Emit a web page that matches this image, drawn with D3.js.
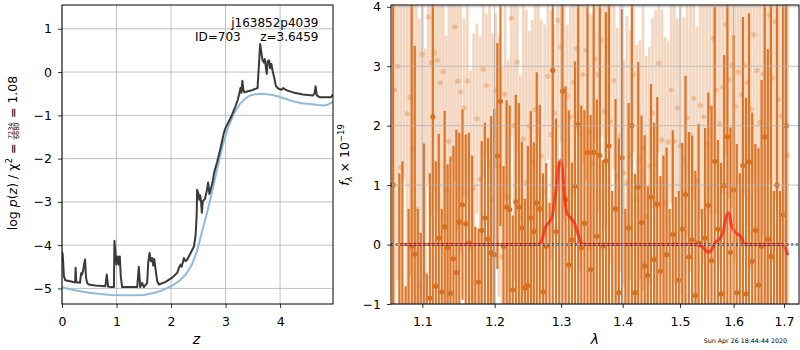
<!DOCTYPE html>
<html><head><meta charset="utf-8">
<script src="https://cdn.jsdelivr.net/npm/d3@7"></script>
<style>body{margin:0;background:#fff}</style>
</head><body><svg id="chart" width="800" height="350"></svg>
<script>
// ---------- Left panel: redshift PDF ----------
const pdfZ = [0.000,0.010,0.020,0.035,0.060,0.170,0.225,0.240,0.250,0.262,0.330,0.350,0.368,0.386,0.404,0.423,0.441,0.460,0.490,0.610,0.795,0.821,0.846,0.920,0.952,0.962,0.980,0.999,1.023,1.042,1.060,1.078,1.103,1.379,1.409,1.434,1.470,1.501,1.562,1.581,1.605,1.630,1.654,1.673,1.691,1.716,1.746,1.777,1.900,2.022,2.114,2.145,2.175,2.194,2.237,2.267,2.298,2.359,2.420,2.451,2.470,2.478,2.500,2.517,2.535,2.550,2.565,2.583,2.619,2.655,2.680,2.704,2.728,2.758,2.789,2.849,2.909,2.970,3.000,3.060,3.121,3.181,3.224,3.248,3.272,3.290,3.308,3.326,3.344,3.393,3.483,3.586,3.610,3.634,3.653,3.677,3.701,3.719,3.737,3.755,3.773,3.798,3.816,3.840,3.864,3.894,3.924,3.967,4.027,4.057,4.118,4.239,4.420,4.601,4.631,4.650,4.674,4.722,4.843,4.934,4.970];
const pdfLogP = [-4.15,-4.20,-4.35,-4.72,-4.81,-4.84,-4.86,-4.86,-4.52,-4.86,-4.87,-4.65,-4.68,-4.60,-4.45,-4.33,-4.75,-4.87,-4.91,-4.93,-4.95,-4.68,-4.96,-4.97,-4.97,-3.90,-4.18,-4.45,-4.26,-4.45,-4.26,-4.72,-4.97,-4.97,-4.50,-4.97,-4.87,-4.97,-4.87,-4.41,-4.18,-4.37,-4.30,-4.47,-4.32,-4.56,-4.83,-4.91,-4.85,-4.75,-4.64,-4.52,-4.45,-4.50,-4.30,-4.37,-4.33,-4.18,-4.03,-3.76,-3.30,-2.72,-2.80,-2.95,-2.85,-3.00,-3.25,-2.98,-2.94,-2.75,-2.55,-2.82,-2.71,-2.56,-2.33,-2.06,-1.75,-1.40,-1.29,-1.14,-0.98,-0.79,-0.64,-0.52,-0.37,-0.48,-0.20,-0.41,-0.47,-0.45,-0.42,-0.37,0.13,0.65,0.48,0.28,0.22,0.30,0.13,-0.04,0.25,0.27,0.09,0.19,0.02,-0.14,-0.33,-0.38,-0.41,-0.37,-0.42,-0.47,-0.52,-0.54,-0.50,-0.33,-0.54,-0.58,-0.58,-0.58,-0.52];
const priorZ = [0.00,0.15,0.30,0.50,0.70,0.90,1.10,1.30,1.50,1.70,1.85,2.00,2.15,2.27,2.39,2.48,2.57,2.66,2.75,2.85,2.95,3.05,3.15,3.25,3.35,3.45,3.55,3.65,3.75,3.85,3.95,4.05,4.15,4.25,4.40,4.55,4.70,4.80,4.88,4.97];
const priorLogP = [-4.97,-5.02,-5.06,-5.10,-5.13,-5.15,-5.16,-5.16,-5.15,-5.10,-5.04,-4.95,-4.83,-4.68,-4.43,-4.12,-3.68,-3.25,-2.78,-2.22,-1.68,-1.27,-0.97,-0.76,-0.62,-0.54,-0.51,-0.50,-0.51,-0.53,-0.56,-0.60,-0.64,-0.68,-0.72,-0.74,-0.76,-0.77,-0.75,-0.68];
const zTicks = [0,1,2,3,4];
const logpTicks = [-5,-4,-3,-2,-1,0,1];
const objName = "j163852p4039";
const objId = "ID=703";
const objZ = "z=3.6459";

// ---------- Right panel: spectrum (wavelength in Angstrom) ----------
const darkWave = [10620,10660,10700,10740,10780,10820,10860,10900,10940,10980,11020,11060,11100,11140,11180,11220,11260,11300,11340,11380,11420,11460,11500,
11545,11590,11635,11680,11725,11770,11815,11860,11905,11950,11995,12040,12085,12130,12175,12220,12265,12310,12355,12400,12445,12490,12535,12580,12625,12670,
12720,12770,12820,12870,12920,12970,13020,13070,13120,13170,13220,13270,13320,13370,13420,13470,13520,13570,13620,13670,13720,13770,
13825,13880,13935,13990,14045,14100,14155,14210,14265,14320,14375,14430,14485,14540,14595,14650,14705,14760,14815,14870,14925,14980,
15040,15100,15160,15220,15280,15340,15400,15460,15520,15580,15640,15700,15760,15820,15880,15940,16000,16060,16120,16180,16240,16300,
16362,16424,16486,16548,16610,16672,16734,16796,16858,16920,16982,17044];
const darkFlux = [1.0,-2.6,-1.3,-1.6,-2.2,-1.8,-0.03,-0.16,-1.5,-2.0,-1.2,-2.4,-0.9,2.15,-0.70,0.11,-0.8,0.3,-0.05,-0.82,-0.24,-0.47,0.38,
0.67,0.35,0.03,-1.4,-1.5,-0.63,0.24,0.45,0.09,-0.14,-0.17,1.49,2.41,-0.03,0.63,0.59,-0.76,0.72,0.63,0.28,-0.73,-0.69,0.45,0.22,0.70,0.60,
-0.80,-0.03,-1.5,2.93,0.22,-1.2,2.58,0.76,-0.34,0.08,0.98,2.02,-0.06,0.36,1.55,-0.42,1.55,0.14,1.50,-0.03,1.41,1.66,
-1.6,0.60,-0.81,1.46,-1.3,0.28,2.00,-0.81,0.97,0.37,-0.36,-0.52,0.80,-0.25,0.68,-0.45,-1.4,-0.17,-2.0,0.17,-1.6,-0.6,
0.26,0.84,-0.21,0.08,-0.86,0.03,-1.5,0.11,0.66,-0.27,1.40,0.26,-0.83,0.99,1.81,-0.13,0.92,-0.81,-1.3,1.33,-0.83,1.39,
-0.28,0.24,-0.68,-0.03,1.81,0.09,-0.2,-1.9,1.0,-1.5,0.5,2.0];
const darkErr = [4.5,1.2,2.5,3.0,1.5,2.4,5.0,3.5,2.1,2.2,2.9,1.9,2.1,3.6,2.1,1.75,1.4,1.95,1.4,2.3,1.9,2.4,1.5,
1.6,1.5,1.85,2.9,1.8,0.9,1.5,1.6,1.7,2.3,2.45,1.9,2.1,1.35,1.8,1.75,1.25,1.8,1.75,1.45,1.5,2.35,1.8,1.5,2.2,1.75,
2.0,1.4,2.2,4.2,1.9,2.6,3.7,1.9,2.6,1.3,2.1,3.2,2.4,1.9,2.7,2.6,2.7,2.3,2.6,1.45,2.5,2.8,
2.5,1.85,2.6,2.5,1.9,2.1,3.1,2.0,2.1,1.8,2.2,1.5,1.9,2.3,1.8,1.6,2.9,1.8,2.6,1.75,2.4,1.5,
1.45,2.0,2.1,1.75,2.1,2.0,2.1,1.85,1.9,2.6,2.6,1.5,2.2,2.2,2.9,2.1,2.6,2.5,2.5,2.5,3.3,2.5,
2.5,1.45,2.3,2.8,3.0,3.2,4.8,2.8,5.0,2.4,5.5,4.5];

const lightWave = [10640,10680,10720,10760,10800,10840,10880,10920,10960,11000,11040,11080,11120,11160,11200,11240,11280,11320,11360,11400,11440,11480,11520,
11567,11612,11657,11702,11747,11792,11837,11882,11927,11972,12017,12062,12107,12152,12197,12242,12287,12332,12377,12422,12467,12512,12557,12602,12647,12692,
12745,12795,12845,12895,12945,12995,13045,13095,13145,13195,13245,13295,13345,13395,13445,13495,13545,13595,13645,13695,13745,13795,
13852,13907,13962,14017,14072,14127,14182,14237,14292,14347,14402,14457,14512,14567,14622,14677,14732,14787,14842,14897,14952,15007,
15070,15130,15190,15250,15310,15370,15430,15490,15550,15610,15670,15730,15790,15850,15910,15970,16030,16090,16150,16210,16270,16330,
16393,16455,16517,16579,16641,16703,16765,16827,16889,16951,17013,17075];
const lightFlux = [2.6,3.0,1.3,4.5,2.2,2.48,1.61,0.60,-0.70,3.2,-0.50,3.83,3.06,3.22,3.10,2.72,2.91,0.92,1.74,4.3,3.66,2.75,2.57,
2.30,2.75,-0.07,0.95,2.12,1.10,2.95,2.68,1.35,0.76,2.59,1.32,-0.21,2.53,0.80,3.81,2.0,3.07,0.45,1.78,1.05,1.99,1.38,2.27,4.4,1.49,
0.9,2.83,1.85,2.21,3.77,3.32,2.61,2.50,2.15,2.73,3.30,1.86,2.86,3.27,1.90,1.37,3.12,2.86,3.44,2.24,3.32,2.07,
2.76,1.15,1.84,1.21,1.04,1.50,2.86,0.76,1.43,1.62,0.47,1.32,2.21,1.35,3.05,1.76,0.70,1.73,2.6,1.74,2.3,1.66,
1.43,2.13,1.85,2.46,1.07,2.34,2.15,1.68,2.31,3.47,2.60,2.03,2.65,3.70,2.77,3.02,2.32,2.90,2.52,3.02,2.72,2.28,
3.53,2.93,2.06,2.87,1.99,3.86,2.80,3.75,2.44,2.16,2.0,1.5];
const lightErr = [4.0,3.6,3.2,3.4,3.4,3.0,3.6,3.8,4.5,3.0,3.8,2.8,2.6,2.3,2.6,2.8,2.5,2.6,3.0,2.9,2.6,2.5,2.7,
1.5,2.0,3.0,2.6,1.6,2.4,1.8,1.2,2.9,2.8,1.3,2.2,3.2,1.8,2.3,2.0,2.6,1.5,2.4,2.6,2.9,1.6,2.4,2.1,2.6,2.3,
2.8,1.4,2.1,1.5,2.5,1.6,2.2,1.2,2.6,1.9,1.4,2.3,1.5,2.2,2.0,2.5,1.4,2.3,1.6,2.0,1.5,2.4,
1.5,2.5,2.3,1.9,2.8,2.1,1.3,2.6,2.0,2.4,2.7,2.0,1.6,2.6,1.5,2.2,2.8,1.7,1.9,2.4,1.5,2.5,
2.4,2.0,2.3,1.7,2.6,1.9,2.5,2.6,1.8,2.0,2.1,2.4,1.8,2.2,2.0,2.4,2.6,1.9,2.5,2.2,2.4,2.7,
2.5,2.9,3.1,2.7,3.2,2.8,3.1,3.0,3.4,3.5,4.0,4.5];

const modelWave = [1.072,1.265,1.270,1.276,1.281,1.286,1.292,1.296,1.299,1.302,1.305,1.309,1.315,1.321,1.326,1.332,1.336,1.527,1.540,1.548,1.553,1.558,1.565,1.576,1.581,1.586,1.591,1.596,1.604,1.614,1.622,1.698,1.703,1.708];
const modelFlux = [0,0,0.07,0.30,0.37,0.47,0.92,1.31,1.42,1.26,0.86,0.53,0.45,0.36,0.20,0.03,0,0,-0.03,-0.11,-0.13,-0.09,0.03,0.13,0.25,0.48,0.53,0.32,0.20,0.13,0,0,-0.07,-0.18];
const lamTicks = [1.1,1.2,1.3,1.4,1.5,1.6,1.7];
const fluxTicks = [-1,0,1,2,3,4];
const stamp = "Sun Apr 26 18:44:44 2020";

// ---------- drawing ----------
const FONT = "DejaVu Sans, sans-serif";
const TICKFS = 12.5;
const svg = d3.select("#chart");
svg.append("rect").attr("width",800).attr("height",350).attr("fill","#fff");

const L = {x0:62, x1:333, y0:5, y1:304};
const R = {x0:391, x1:799, y0:5, y1:304};
const xL = d3.scaleLinear().domain([0,4.97]).range([L.x0,L.x1]);
const yL = d3.scaleLinear().domain([-5.36,1.55]).range([L.y1,L.y0]);
const xR = d3.scaleLog().domain([1.0593,1.731]).range([R.x0,R.x1]);
const yR = d3.scaleLinear().domain([-1,4.03]).range([R.y1,R.y0]);

const defs = svg.append("defs");
defs.append("clipPath").attr("id","clipL").append("rect").attr("x",L.x0).attr("y",L.y0).attr("width",L.x1-L.x0).attr("height",L.y1-L.y0);
defs.append("clipPath").attr("id","clipR").append("rect").attr("x",R.x0).attr("y",R.y0).attr("width",R.x1-R.x0).attr("height",R.y1-R.y0);

function drawGrid(g, x, y, xt, yt, B){
  g.selectAll(".vg").data(xt).join("line").attr("class","vg").attr("x1",d=>x(d)).attr("x2",d=>x(d)).attr("y1",B.y0).attr("y2",B.y1)
    .attr("stroke","#b0b0b0").attr("stroke-width",0.8);
  g.selectAll(".hg").data(yt).join("line").attr("class","hg").attr("y1",d=>y(d)).attr("y2",d=>y(d)).attr("x1",B.x0).attr("x2",B.x1)
    .attr("stroke","#b0b0b0").attr("stroke-width",0.8);
}
function styleAxis(g){
  g.select(".domain").remove();
  g.selectAll(".tick line").attr("stroke","#000").attr("stroke-width",0.8);
  g.selectAll("text").attr("font-size",TICKFS).attr("font-family",FONT).attr("fill","#000");
}

// ----- left panel -----
const gL = svg.append("g");
drawGrid(gL.append("g"), xL, yL, zTicks, logpTicks, L);
const lineL = d3.line().x(d=>xL(d[0])).y(d=>yL(d[1]));
const gLc = gL.append("g").attr("clip-path","url(#clipL)");
gLc.append("path").datum(d3.zip(priorZ,priorLogP)).attr("d",lineL).attr("fill","none").attr("stroke","#8fbbda").attr("stroke-width",2);
gLc.append("path").datum(d3.zip(pdfZ,pdfLogP)).attr("d",lineL).attr("fill","none").attr("stroke","#3a3a3a").attr("stroke-width",2).attr("stroke-linejoin","round");
svg.append("g").attr("transform",`translate(0,${L.y1})`)
  .call(d3.axisBottom(xL).tickValues(zTicks).tickFormat(d3.format("d")).tickSize(4))
  .call(styleAxis).selectAll("text").attr("y",21.5).attr("dy",null);
svg.append("g").attr("transform",`translate(${L.x0},0)`)
  .call(d3.axisLeft(yL).tickValues(logpTicks).tickFormat(d3.format("d")).tickSize(4).tickPadding(6))
  .call(styleAxis);
svg.append("rect").attr("x",L.x0).attr("y",L.y0).attr("width",L.x1-L.x0).attr("height",L.y1-L.y0)
  .attr("fill","none").attr("stroke","#000").attr("stroke-width",1);
svg.append("text").attr("x",318.5).attr("y",27).attr("text-anchor","end").attr("font-size",12).attr("font-family",FONT).text(objName);
svg.append("text").attr("x",195).attr("y",41.3).attr("font-size",12).attr("font-family",FONT).text(objId);
svg.append("text").attr("x",318.5).attr("y",41.3).attr("text-anchor","end").attr("font-size",12).attr("font-family",FONT).text(objZ);
svg.append("text").attr("x",196.5).attr("y",344).attr("text-anchor","middle").attr("font-size",14).attr("font-family",FONT)
  .attr("font-style","italic").text("z");
{
  const fs = 12.5;
  const g = svg.append("g").attr("transform","translate(17.3,153) rotate(-90)");
  const inner = g.append("g");
  const t1 = inner.append("text").attr("font-size",fs).attr("font-family",FONT).attr("x",0).attr("y",0);
  t1.append("tspan").text("log ");
  t1.append("tspan").attr("font-style","italic").text("p");
  t1.append("tspan").text("(");
  t1.append("tspan").attr("font-style","italic").text("z");
  t1.append("tspan").text(") / χ");
  t1.append("tspan").attr("font-size",fs*0.7).attr("dy",-5).text("2");
  t1.append("tspan").attr("dy",5).text("\u00a0=\u00a0");
  const w1 = t1.node().getComputedTextLength();
  const num = inner.append("text").attr("font-size",6.5).attr("font-family",FONT).attr("text-anchor","middle").attr("y",-4.4).text("7234");
  const den = inner.append("text").attr("font-size",6.5).attr("font-family",FONT).attr("text-anchor","middle").attr("y",1.9).text("6680");
  const fw = Math.max(num.node().getComputedTextLength(), den.node().getComputedTextLength()) + 1;
  num.attr("x", w1 + fw/2); den.attr("x", w1 + fw/2);
  inner.append("line").attr("x1",w1).attr("x2",w1+fw).attr("y1",-3.4).attr("y2",-3.4).attr("stroke","#000").attr("stroke-width",0.5);
  const t2 = inner.append("text").attr("font-size",fs).attr("font-family",FONT).attr("x",w1+fw).attr("y",0).text("\u00a0=\u00a01.08");
  const W = w1 + fw + t2.node().getComputedTextLength();
  inner.attr("transform",`translate(${-W/2},0)`);
}

// ----- right panel -----
const gR = svg.append("g");
const gRc = gR.append("g").attr("clip-path","url(#clipR)");
const ORANGE = "#d9701f";
const light = d3.range(lightWave.length).map(i=>({w:lightWave[i]/1e4, f:lightFlux[i], e:lightErr[i]}));
const dark = d3.range(darkWave.length).map(i=>({w:darkWave[i]/1e4, f:darkFlux[i], e:darkErr[i]}));
gRc.append("g").selectAll("line").data(light).join("line")
  .attr("x1",d=>xR(d.w)).attr("x2",d=>xR(d.w)).attr("y1",d=>yR(d.f+d.e)).attr("y2",d=>yR(d.f-d.e))
  .attr("stroke",ORANGE).attr("stroke-opacity",0.28).attr("stroke-width",2.8);
gRc.append("g").selectAll("circle").data(light).join("circle")
  .attr("cx",d=>xR(d.w)).attr("cy",d=>yR(d.f)).attr("r",2.6).attr("fill",ORANGE).attr("fill-opacity",0.3);
gRc.append("g").selectAll("line").data(dark).join("line")
  .attr("x1",d=>xR(d.w)).attr("x2",d=>xR(d.w)).attr("y1",d=>yR(d.f+d.e)).attr("y2",d=>yR(d.f-d.e))
  .attr("stroke",ORANGE).attr("stroke-opacity",0.95).attr("stroke-width",2.2);
gRc.append("g").selectAll("circle").data(dark).join("circle")
  .attr("cx",d=>xR(d.w)).attr("cy",d=>yR(d.f)).attr("r",2.6).attr("fill",ORANGE);
drawGrid(gR.append("g"), xR, yR, lamTicks, fluxTicks, R);
const lineR = d3.line().x(d=>xR(d[0])).y(d=>yR(d[1])).curve(d3.curveMonotoneX);
gRc.append("path").datum(d3.zip(modelWave,modelFlux)).attr("d",lineR).attr("fill","none")
  .attr("stroke","#ff1a10").attr("stroke-opacity",0.7).attr("stroke-width",3).attr("stroke-linejoin","round");
gRc.append("line").attr("x1",R.x0).attr("x2",R.x1).attr("y1",yR(0)).attr("y2",yR(0))
  .attr("stroke","#000").attr("stroke-width",2).attr("stroke-dasharray","2,2.6");
svg.append("g").attr("transform",`translate(0,${R.y1})`)
  .call(d3.axisBottom(xR).tickValues(lamTicks).tickFormat(d3.format(".1f")).tickSize(4))
  .call(styleAxis).selectAll("text").attr("y",21.5).attr("dy",null);
svg.append("g").attr("transform",`translate(${R.x0},0)`)
  .call(d3.axisLeft(yR).tickValues(fluxTicks).tickFormat(d3.format("d")).tickSize(4).tickPadding(6))
  .call(styleAxis);
svg.append("rect").attr("x",R.x0).attr("y",R.y0).attr("width",R.x1-R.x0).attr("height",R.y1-R.y0)
  .attr("fill","none").attr("stroke","#000").attr("stroke-width",1);
svg.append("text").attr("x",595).attr("y",344).attr("text-anchor","middle").attr("font-size",14).attr("font-family",FONT)
  .attr("font-style","italic").text("λ");
{
  const g = svg.append("g").attr("transform","translate(349,155) rotate(-90)");
  const t = g.append("text").attr("font-size",12.5).attr("font-family",FONT).attr("text-anchor","middle");
  t.append("tspan").attr("font-style","italic").text("f");
  t.append("tspan").attr("font-style","italic").attr("font-size",8.5).attr("dy",3).text("λ");
  t.append("tspan").attr("dy",-3).text("\u00a0×\u00a010");
  t.append("tspan").attr("font-size",8.5).attr("dy",-5).text("−19");
}
svg.append("text").attr("x",787).attr("y",343).attr("text-anchor","end").attr("font-size",6.3).attr("font-family",FONT)
  .attr("fill","#000").text(stamp);
</script></body></html>
